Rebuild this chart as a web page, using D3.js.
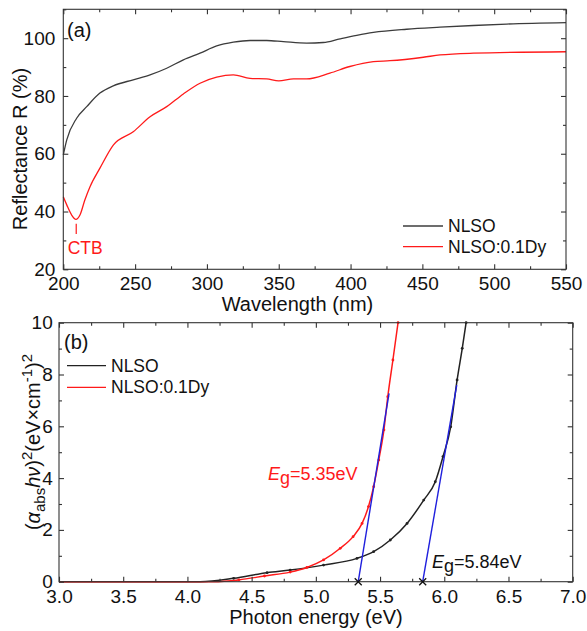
<!DOCTYPE html>
<html>
<head>
<meta charset="utf-8">
<script src="https://cdn.jsdelivr.net/npm/d3@7/dist/d3.min.js"></script>
<style>
  html, body { margin: 0; padding: 0; background: #fff; }
  svg { display: block; font-family: "Liberation Sans", Arial, sans-serif; }
</style>
</head>
<body>
<svg id="chart" width="587" height="631"></svg>
<script>
// ---------- Panel (a): diffuse reflectance ----------
const wavelengthNLSO = [200, 202.4, 209.3, 216.3, 225.5, 234.8, 248.7, 260.4, 272, 283.6, 295.2, 306.8, 318.4, 330, 341.6, 353.2, 369.4, 381, 392.7, 404.3, 415.9, 439.1, 462.3, 485.5, 508.7, 550];
const reflectNLSO    = [59.6, 64.8, 72.3, 76.3, 81, 83.5, 85.6, 87.3, 89.6, 92.5, 94.8, 97.3, 98.6, 99.2, 99.2, 98.8, 98.3, 98.5, 99.8, 101, 102, 103.1, 103.8, 104.4, 104.9, 105.4];
const wavelengthDy   = [200, 202.4, 205.8, 208.8, 211.6, 215, 218.6, 225.5, 234.8, 248.7, 260.4, 272, 283.6, 295.2, 306.8, 318.4, 330, 341.6, 350, 360.3, 369.4, 385.6, 399.5, 415.9, 427.5, 450.7, 462.3, 485.5, 550];
const reflectDy      = [45.1, 42.3, 38.8, 37.3, 38.8, 44, 48.6, 55, 63, 67.6, 72.8, 76.3, 80.7, 84.4, 86.5, 87.3, 86.1, 85.9, 85.2, 85.9, 85.9, 87.9, 90.2, 91.9, 92.2, 93.4, 94.2, 94.8, 95.3];
const xTicksA = [200, 250, 300, 350, 400, 450, 500, 550];
const yTicksA = [20, 40, 60, 80, 100];
const ctbWavelength = 209;
const ctbRange = [32.2, 35.8];

// ---------- Panel (b): Tauc plot ----------
const energyNLSO = [3.0, 3.5, 4.0, 4.10, 4.36, 4.62, 4.80, 5.06, 5.32, 5.45, 5.58, 5.71, 5.84, 5.93, 5.99, 6.05, 6.10, 6.14, 6.17];
const taucNLSO   = [0, 0, 0, 0, 0.13, 0.35, 0.45, 0.64, 0.90, 1.16, 1.61, 2.25, 3.15, 3.86, 4.83, 5.98, 7.79, 9.01, 10.0];
const energyDy   = [3.0, 3.5, 4.0, 4.20, 4.40, 4.60, 4.80, 4.93, 5.06, 5.19, 5.29, 5.36, 5.41, 5.45, 5.49, 5.53, 5.56, 5.60, 5.64];
const taucDy     = [0, 0, 0, 0, 0.07, 0.22, 0.37, 0.55, 0.84, 1.29, 1.74, 2.25, 2.9, 3.67, 4.7, 5.86, 7.14, 8.56, 10.0];
const tangentDyX   = [5.33, 5.57];
const tangentDyY   = [0, 7.27];
const tangentNLSOX = [5.832, 6.097];
const tangentNLSOY = [0, 7.59];
const egLabels = ["5.35eV", "5.84eV"];
const xTicksB = [3.0, 3.5, 4.0, 4.5, 5.0, 5.5, 6.0, 6.5, 7.0];
const yTicksB = [0, 2, 4, 6, 8, 10];
const seriesNames = ["NLSO", "NLSO:0.1Dy"];

// ---------- styling ----------
const BLACK = "#222", GRAY = "#3c3c3c", RED = "#ff1a1a", BLUE = "#1f1fdd", AX = "#333";
const svg = d3.select("#chart");
const TICKFS = 19, TITLEFS = 20, LEGFS = 17.5;

function frame(g, x, y) {
  const [x0, x1] = x.range(), [y0, y1] = y.range();
  g.append("rect").attr("x", x0).attr("y", y1).attr("width", x1 - x0).attr("height", y0 - y1)
    .attr("fill", "none").attr("stroke", AX).attr("stroke-width", 1.1);
}
function styleAxis(sel) {
  sel.select(".domain").remove();
  sel.selectAll("line").attr("stroke", AX).attr("stroke-width", 1.1);
  sel.selectAll("text").attr("font-size", TICKFS).attr("fill", "#111");
}
function axes(g, x, y, xMaj, xMin, yMaj, yMin, xFmt, xPad, yPad) {
  const [x0, x1] = x.range(), [y0, y1] = y.range();
  g.append("g").attr("transform", `translate(0,${y0})`)
    .call(d3.axisBottom(x).tickValues(xMaj).tickSize(-5).tickPadding(xPad).tickFormat(xFmt)).call(styleAxis);
  g.append("g").attr("transform", `translate(0,${y0})`)
    .call(d3.axisBottom(x).tickValues(xMin).tickSize(-3).tickFormat("")).call(styleAxis);
  g.append("g").attr("transform", `translate(0,${y1})`)
    .call(d3.axisTop(x).tickValues(xMaj).tickSize(-5).tickFormat("")).call(styleAxis);
  g.append("g").attr("transform", `translate(0,${y1})`)
    .call(d3.axisTop(x).tickValues(xMin).tickSize(-3).tickFormat("")).call(styleAxis);
  g.append("g").attr("transform", `translate(${x0},0)`)
    .call(d3.axisLeft(y).tickValues(yMaj).tickSize(-5).tickPadding(yPad).tickFormat(d3.format("d"))).call(styleAxis);
  g.append("g").attr("transform", `translate(${x0},0)`)
    .call(d3.axisLeft(y).tickValues(yMin).tickSize(-3).tickFormat("")).call(styleAxis);
  g.append("g").attr("transform", `translate(${x1},0)`)
    .call(d3.axisRight(y).tickValues(yMaj).tickSize(-5).tickFormat("")).call(styleAxis);
  g.append("g").attr("transform", `translate(${x1},0)`)
    .call(d3.axisRight(y).tickValues(yMin).tickSize(-3).tickFormat("")).call(styleAxis);
  frame(g, x, y);
}

// ================= Panel (a) =================
const xA = d3.scaleLinear().domain([200, 550]).range([63.3, 566]);
const yA = d3.scaleLinear().domain([20, 110]).range([269.3, 9.3]);
const gA = svg.append("g");

const lineA = d3.line().x(d => xA(d[0])).y(d => yA(d[1])).curve(d3.curveMonotoneX);
gA.append("path").datum(d3.zip(wavelengthNLSO, reflectNLSO)).attr("d", lineA)
  .attr("fill", "none").attr("stroke", GRAY).attr("stroke-width", 1.3);
gA.append("path").datum(d3.zip(wavelengthDy, reflectDy)).attr("d", lineA)
  .attr("fill", "none").attr("stroke", RED).attr("stroke-width", 1.3);

axes(gA, xA, yA, xTicksA, d3.range(225, 550, 50), yTicksA, [30, 50, 70, 90, 110],
     d3.format("d"), 7.6, 8);

gA.append("line").attr("x1", xA(ctbWavelength)).attr("x2", xA(ctbWavelength))
  .attr("y1", yA(ctbRange[1])).attr("y2", yA(ctbRange[0])).attr("stroke", RED).attr("stroke-width", 1.2);
gA.append("text").attr("x", xA(ctbWavelength) - 8.5).attr("y", 254).attr("fill", RED)
  .attr("font-size", 17.5).text("CTB");

gA.append("text").attr("x", 67).attr("y", 37).attr("font-size", TITLEFS).attr("fill", "#111").text("(a)");
gA.append("text").attr("x", 297.5).attr("y", 310.5).attr("text-anchor", "middle")
  .attr("font-size", TITLEFS).attr("fill", "#111").text("Wavelength (nm)");
gA.append("text").attr("transform", "translate(27,149) rotate(-90)").attr("text-anchor", "middle")
  .attr("font-size", TITLEFS).attr("fill", "#111").text("Reflectance R (%)");

[[GRAY, 226], [RED, 246.7]].forEach(([c, yy], i) => {
  gA.append("line").attr("x1", 403).attr("x2", 443).attr("y1", yy).attr("y2", yy)
    .attr("stroke", c).attr("stroke-width", 1.3);
  gA.append("text").attr("x", 448).attr("y", yy).attr("dy", "0.35em").attr("font-size", LEGFS)
    .attr("fill", "#111").text(seriesNames[i]);
});

// ================= Panel (b) =================
const xB = d3.scaleLinear().domain([3, 7]).range([59, 572.7]);
const yB = d3.scaleLinear().domain([0, 10]).range([581.7, 322.7]);
const gB = svg.append("g");

const lineB = d3.line().x(d => xB(d[0])).y(d => yB(d[1])).curve(d3.curveMonotoneX);
const nlsoB = d3.zip(energyNLSO, taucNLSO), dyB = d3.zip(energyDy, taucDy);
gB.append("path").datum(nlsoB).attr("d", lineB)
  .attr("fill", "none").attr("stroke", BLACK).attr("stroke-width", 1.5);
gB.append("path").datum(dyB).attr("d", lineB)
  .attr("fill", "none").attr("stroke", RED).attr("stroke-width", 1.5);
gB.selectAll(".mk1").data(nlsoB.filter(d => d[1] > 0)).enter().append("circle")
  .attr("cx", d => xB(d[0])).attr("cy", d => yB(d[1])).attr("r", 1.4).attr("fill", BLACK);
gB.selectAll(".mk2").data(dyB.filter(d => d[1] > 0)).enter().append("circle")
  .attr("cx", d => xB(d[0])).attr("cy", d => yB(d[1])).attr("r", 1.4).attr("fill", RED);

[[tangentDyX, tangentDyY], [tangentNLSOX, tangentNLSOY]].forEach(([tx, ty]) => {
  gB.append("line").attr("x1", xB(tx[0])).attr("y1", yB(ty[0])).attr("x2", xB(tx[1])).attr("y2", yB(ty[1]))
    .attr("stroke", BLUE).attr("stroke-width", 1.4);
});

axes(gB, xB, yB, xTicksB, d3.range(3.25, 7, 0.5), yTicksB, [1, 3, 5, 7, 9],
     d3.format(".1f"), 8.2, 6.3);

[tangentDyX[0], tangentNLSOX[0]].forEach(e => {
  const cx = xB(e), cy = yB(0), s = 3.5;
  gB.append("path").attr("d", `M${cx - s},${cy - s}L${cx + s},${cy + s}M${cx - s},${cy + s}L${cx + s},${cy - s}`)
    .attr("stroke", "#111").attr("stroke-width", 1.3);
});

function egLabel(x, y, color, val) {
  const t = gB.append("text").attr("x", x).attr("y", y).attr("fill", color).attr("font-size", 18);
  t.append("tspan").attr("font-style", "italic").text("E");
  t.append("tspan").attr("dy", 4).text("g");
  t.append("tspan").attr("dy", -4).text("=" + val);
}
egLabel(268, 480, RED, egLabels[0]);
egLabel(432, 568, "#111", egLabels[1]);

gB.append("text").attr("x", 64).attr("y", 349).attr("font-size", TITLEFS).attr("fill", "#111").text("(b)");
gB.append("text").attr("x", 316).attr("y", 624).attr("text-anchor", "middle")
  .attr("font-size", TITLEFS).attr("fill", "#111").text("Photon energy (eV)");

const yt = gB.append("text").attr("transform", "translate(40,442) rotate(-90)").attr("text-anchor", "middle")
  .attr("font-size", TITLEFS).attr("fill", "#111");
yt.append("tspan").text("(");
yt.append("tspan").attr("font-style", "italic").text("α");
yt.append("tspan").attr("font-size", 15).attr("dy", 5).text("abs");
yt.append("tspan").attr("font-style", "italic").attr("dy", -5).text("hν");
yt.append("tspan").text(")");
yt.append("tspan").attr("font-size", 15).attr("dy", -8).text("2");
yt.append("tspan").attr("dy", 8).text("(eV×cm");
yt.append("tspan").attr("font-size", 15).attr("dy", -8).text("-1");
yt.append("tspan").attr("dy", 8).text(")");
yt.append("tspan").attr("font-size", 15).attr("dy", -8).text("2");

[[BLACK, 365.7], [RED, 387.3]].forEach(([c, yy], i) => {
  gB.append("line").attr("x1", 67).attr("x2", 106).attr("y1", yy).attr("y2", yy)
    .attr("stroke", c).attr("stroke-width", 1.3);
  gB.append("text").attr("x", 111).attr("y", yy).attr("dy", "0.35em").attr("font-size", LEGFS)
    .attr("fill", "#111").text(seriesNames[i]);
});
</script>
</body>
</html>
